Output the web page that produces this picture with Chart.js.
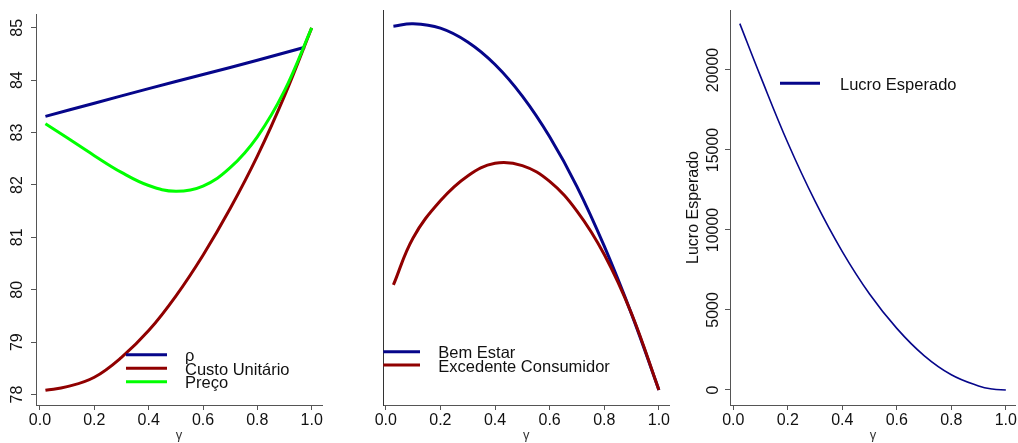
<!DOCTYPE html>
<html>
<head>
<meta charset="utf-8">
<script src="https://cdn.jsdelivr.net/npm/chart.js@4.4.1/dist/chart.umd.min.js"></script>
<style>
  body { margin: 0; background: #fff; width: 1018px; height: 443px; overflow: hidden; position: relative; }
  canvas { position: absolute; top: 0; }
</style>
</head>
<body>
<canvas id="graficoPreco" width="340" height="443" style="left:0"></canvas>
<canvas id="graficoBemEstar" width="339" height="443" style="left:340px"></canvas>
<canvas id="graficoLucro" width="338" height="443" style="left:680px"></canvas>
<script>
// valores
const ticksGama = [0, 0.2, 0.4, 0.6, 0.8, 1.0];

// painel 1
const gamaRho = [0.02, 0.2, 0.4, 0.6, 0.8, 0.975];
const rho = [83.31, 83.56, 83.84, 84.11, 84.38, 84.63];
const gamaCusto = [0.02, 0.1, 0.2, 0.3, 0.4, 0.5, 0.6, 0.7, 0.8, 0.9, 1.0];
const custoUnitario = [78.08, 78.15, 78.33, 78.71, 79.22, 79.88, 80.66, 81.55, 82.55, 83.70, 85.0];
const gamaPreco = [0.02, 0.1, 0.2, 0.3, 0.4, 0.5, 0.6, 0.7, 0.8, 0.9, 1.0];
const preco = [83.17, 82.90, 82.56, 82.24, 81.99, 81.88, 81.98, 82.33, 82.92, 83.80, 85.0];
const ticksPreco = [78, 79, 80, 81, 82, 83, 84, 85];

// painel 2 (eixo sem escala)
const gamaBem = [0.028, 0.1, 0.2, 0.3, 0.4, 0.5, 0.6, 0.7, 0.8, 0.9, 1.0];
const bemEstar = [95.9, 96.5, 95.4, 91.9, 86.2, 78.2, 67.9, 55.3, 40.2, 23.0, 3.8];
const gamaExc = [0.028, 0.1, 0.2, 0.3, 0.4, 0.5, 0.6, 0.7, 0.8, 0.9, 1.0];
const excedente = [30.4, 42.3, 51.7, 58.0, 61.2, 60.6, 56.6, 49.1, 38.1, 23.1, 3.8];

// painel 3
const gamaLucro = [0.024, 0.1, 0.2, 0.3, 0.4, 0.5, 0.6, 0.7, 0.8, 0.9, 0.95, 1.0];
const lucro = [22900, 19600, 15450, 11800, 8650, 6000, 3850, 2150, 950, 250, 60, 0];
const ticksLucro = [0, 5000, 10000, 15000, 20000];

const FONTE = '"Liberation Sans", Arial, sans-serif';
const AZUL = "#06068a";
const VERMELHO = "#900000";
const VERDE = "#00ff00";

function pontos(xs, ys) {
    return xs.map((x, i) => ({ x, y: ys[i] }));
}

// legenda desenhada dentro da área, como no gráfico original
const legendaInterna = {
    id: "legendaInterna",
    afterDatasetsDraw(chart, args, opts) {
        const ctx = chart.ctx;
        ctx.save();
        ctx.font = "16.5px " + FONTE;
        ctx.textBaseline = "middle";
        chart.data.datasets.forEach((ds, i) => {
            const y = opts.y + i * opts.gap;
            ctx.strokeStyle = ds.borderColor;
            ctx.lineWidth = 3;
            ctx.beginPath();
            ctx.moveTo(opts.x1, y);
            ctx.lineTo(opts.x2, y);
            ctx.stroke();
            ctx.fillStyle = "#111";
            ctx.fillText(ds.label, opts.tx, y + 2);
        });
        ctx.restore();
    }
};

function eixoX(min, max) {
    return {
        type: "linear", min, max,
        afterBuildTicks: s => { s.ticks = ticksGama.map(v => ({ value: v })); },
        afterFit: s => { s.height = 38; },
        ticks: { callback: v => v.toFixed(1), color: "#111", font: { size: 16, family: FONTE }, padding: 1, maxRotation: 0, autoSkip: false },
        grid: { display: true, drawOnChartArea: false, drawTicks: true, tickLength: 5, color: "#555" },
        border: { display: true, color: "#555", width: 1 },
        title: { display: true, text: "γ", color: "#333", font: { size: 13, family: FONTE }, padding: { top: 0, bottom: 0 } }
    };
}

function eixoY(min, max, lista, largura, pad) {
    return {
        type: "linear", min, max,
        afterBuildTicks: s => { s.ticks = lista.map(v => ({ value: v })); },
        afterFit: s => { s.width = largura; },
        ticks: { callback: v => String(v), color: "#111", font: { size: 16, family: FONTE }, padding: pad, minRotation: 90, maxRotation: 90, crossAlign: "center" },
        grid: { display: true, drawOnChartArea: false, drawTicks: true, tickLength: 5, color: "#555" },
        border: { display: true, color: "#555", width: 1 }
    };
}

function serie(label, xs, ys, cor, largura, ordem) {
    return {
        label, data: pontos(xs, ys),
        borderColor: cor, borderWidth: largura, pointRadius: 0,
        tension: 0.4, order: ordem, fill: false
    };
}

const base = {
    responsive: false, animation: false, devicePixelRatio: 1,
    plugins: { legend: { display: false }, tooltip: { enabled: false } }
};

new Chart(document.getElementById("graficoPreco"), {
    type: "line",
    data: {
        datasets: [
            serie("ρ", gamaRho, rho, AZUL, 3, 2),
            serie("Custo Unitário", gamaCusto, custoUnitario, VERMELHO, 3, 1),
            serie("Preço", gamaPreco, preco, VERDE, 3, 0)
        ]
    },
    options: {
        ...base,
        layout: { padding: { top: 10, right: 18, left: 0, bottom: 0 } },
        scales: { x: eixoX(-0.0147, 1.038), y: eixoY(77.8, 85.26, ticksPreco, 36, 4.6) },
        plugins: { ...base.plugins, legendaInterna: { x1: 126, x2: 167, y: 354.7, gap: 13.5, tx: 185 } }
    },
    plugins: [legendaInterna]
});

const eixoYMeio = {
    type: "linear", min: 0, max: 100,
    afterFit: s => { s.width = 43.3; },
    ticks: { display: false },
    grid: { display: false, drawTicks: false },
    border: { display: true, color: "#333", width: 1 }
};

new Chart(document.getElementById("graficoBemEstar"), {
    type: "line",
    data: {
        datasets: [
            serie("Bem Estar", gamaBem, bemEstar, AZUL, 3, 1),
            serie("Excedente Consumidor", gamaExc, excedente, VERMELHO, 3, 0)
        ]
    },
    options: {
        ...base,
        layout: { padding: { top: 10, right: 10, left: 0, bottom: 0 } },
        scales: { x: eixoX(-0.009, 1.037), y: eixoYMeio },
        plugins: { ...base.plugins, legendaInterna: { x1: 43.3, x2: 80, y: 351.7, gap: 13.3, tx: 98.3 } }
    },
    plugins: [legendaInterna]
});

const eixoYLucro = eixoY(-940, 23750, ticksLucro, 50, -10.5);
eixoYLucro.title = { display: true, text: "Lucro Esperado", color: "#111", font: { size: 16, family: FONTE }, padding: { top: 4, bottom: 0 } };

new Chart(document.getElementById("graficoLucro"), {
    type: "line",
    data: {
        datasets: [serie("Lucro Esperado", gamaLucro, lucro, AZUL, 1.6, 0)]
    },
    options: {
        ...base,
        layout: { padding: { top: 10, right: 1.3, left: 0, bottom: 0 } },
        scales: { x: eixoX(-0.012, 1.037), y: eixoYLucro },
        plugins: { ...base.plugins, legendaInterna: { x1: 100, x2: 140, y: 83.3, gap: 13, tx: 160 } }
    },
    plugins: [legendaInterna]
});
</script>
</body>
</html>
